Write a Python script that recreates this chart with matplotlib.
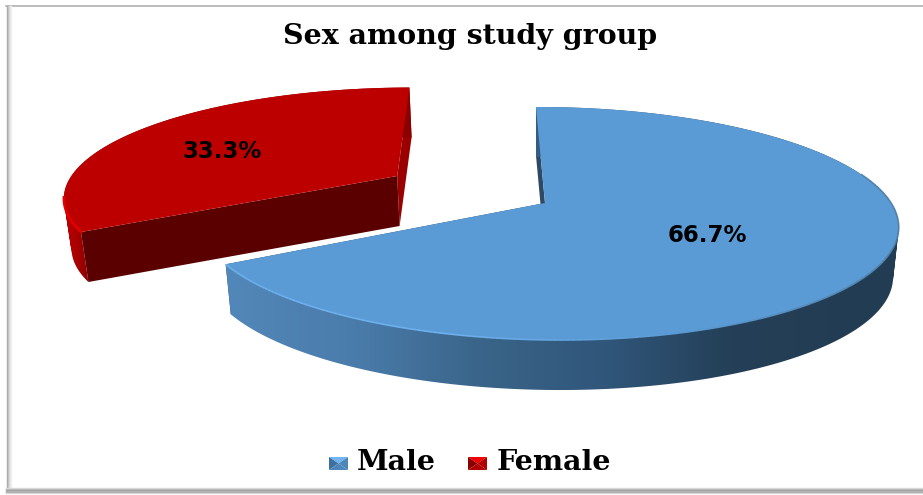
import numpy as np
import matplotlib
matplotlib.use('Agg')
import matplotlib.pyplot as plt
from matplotlib.collections import LineCollection
from matplotlib.colors import LinearSegmentedColormap
from matplotlib.patches import PathPatch
from matplotlib.path import Path

categories = ['Male', 'Female']
shares = [66.7, 33.3]
value_labels = ['66.7%', '33.3%']
title = 'Sex among study group'

# perspective settings of the fake 3d pie, in pixels
CX, CY = 545, 203
RX, RY = 344, 112.9
PERSP_Y = 0.176
PERSP_X = -0.006
SHEAR = -10.6
DEPTH = 50
SHRINK = 0.016
EXPLODE = [0.0, 0.5]
NUDGE = [0, -3]

label_xy = [(707, 235), (222, 151)]
top_colors = ['#5b9bd5', '#bc0000']
cut_colors = ['#2c4a63', '#5a0000']
back_colors = ['#28465e', '#9a0000']
side_maps = [
    LinearSegmentedColormap.from_list('blue', ['#5287b9', '#4a7cab', '#3a6489', '#30567a', '#243f57', '#223d53']),
    LinearSegmentedColormap.from_list('red', ['#c60000', '#ac0000', '#8a0000']),
]
side_ranges = [(228, 860), (60, 90)]
rim_map = LinearSegmentedColormap.from_list('rim', ['#6db0ee', '#6db0ee', '#5b9bd5', '#4f7fa8'])


def project(x, y):
    w = 1 + PERSP_Y * y + PERSP_X * x
    return CX + (RX * x + SHEAR * y) / w, CY - RY * y / w


def lower(x, y):
    # same point on the underside of the disc
    return CX + (x - CX) * (1 - SHRINK), y + DEPTH


def slice_xy(start, end, explode, nudge, n=300):
    # angles run clockwise from 12 o'clock
    mid = np.radians((start + end) / 2)
    ox, oy = explode * np.sin(mid), explode * np.cos(mid)
    t = np.radians(np.linspace(start, end, n))
    ax_, ay_ = project(ox, oy)
    px, py = project(ox + np.sin(t), oy + np.cos(t))
    return (ax_ + nudge, ay_), px + nudge, py


def wall_path(px, py, bx, by):
    # one quad per arc step, all wound the same way so they add up when clipping
    verts, codes = [], []
    for k in range(len(px) - 1):
        q = np.array([[px[k], py[k]], [px[k + 1], py[k + 1]], [bx[k + 1], by[k + 1]], [bx[k], by[k]]])
        area = np.sum(q[:, 0] * np.roll(q[:, 1], -1) - np.roll(q[:, 0], -1) * q[:, 1])
        if area < 0:
            q = q[::-1]
        verts += list(q) + [q[0]]
        codes += [Path.MOVETO, Path.LINETO, Path.LINETO, Path.LINETO, Path.CLOSEPOLY]
    return Path(np.array(verts), codes)


fig = plt.figure(figsize=(9.23, 4.95), dpi=100)
ax = fig.add_axes([0, 0, 1, 1])
ax.axis('off')

# frame of the pasted picture
ax.plot([6, 923], [6, 6], color='#b0b0b0', lw=1.2, zorder=1)
for i, c in enumerate(['#a8a8a8', '#c0c0c0', '#d6d6d6', '#e6e6e6', '#f2f2f2']):
    ax.plot([6.5 + i, 6.5 + i], [6, 488], color=c, lw=1, zorder=1)
for y, c in zip([488, 489, 490, 491, 492, 493], ['#e0e0e0', '#c0c0c0', '#a0a0a0', '#b4b4b4', '#a8a8a8', '#d8d8d8']):
    ax.plot([6, 923], [y, y], color=c, lw=1, zorder=1)

for i in [1, 0]:
    a0 = sum(shares[:i]) * 3.6
    a1 = a0 + shares[i] * 3.6
    apex, px, py = slice_xy(a0, a1, EXPLODE[i], NUDGE[i])
    bx, by = lower(px, py)
    abx, aby = lower(apex[0], apex[1])

    # outer wall, shaded along x
    lo, hi = side_ranges[i]
    grad = np.clip((np.linspace(0, 923, 923) - lo) / (hi - lo), 0, 1).reshape(1, -1)
    im = ax.imshow(grad, cmap=side_maps[i], extent=[0, 923, 495, 0], aspect='auto',
                   interpolation='bilinear', vmin=0, vmax=1, zorder=3)
    im.set_clip_path(PathPatch(wall_path(px, py, bx, by), transform=ax.transData))

    # cut faces: the first radius faces the viewer on the red slice
    ax.fill([px[-1], bx[-1], abx, apex[0]], [py[-1], by[-1], aby, apex[1]],
            color=back_colors[i], lw=0, zorder=2)
    ax.fill([px[0], bx[0], abx, apex[0]], [py[0], by[0], aby, apex[1]],
            color=cut_colors[i], lw=0, zorder=4 if i == 1 else 2)
    ax.fill(np.r_[apex[0], px], np.r_[apex[1], py], color=top_colors[i], lw=0, zorder=5)

    # lit rim on the front edge, fades out towards the dark side
    if i == 0:
        m = py > CY - 30
        pts = np.c_[px[m], py[m]]
        segs = np.stack([pts[:-1], pts[1:]], axis=1)
        rim = LineCollection(segs, cmap=rim_map, linewidths=1.2, zorder=6)
        rim.set_array(np.clip((pts[:-1, 0] - 228) / (895 - 228), 0, 1))
        ax.add_collection(rim)
    else:
        m = py > 197
        ax.plot(px[m], py[m], color='#e40000', lw=1.8, zorder=6)

    ax.text(label_xy[i][0], label_xy[i][1], value_labels[i], ha='center', va='center',
            family='DejaVu Sans', weight='bold', fontsize=16.5, color='black', zorder=7)

ax.text(470, 36, title, ha='center', va='center', family='DejaVu Serif',
        weight='bold', fontsize=20.5, color='black', zorder=7)

# legend
swatch_x = [329, 468]
text_x = [357, 497]
dark = ['#3f6f9e', '#8a0000']
mid_c = ['#4d86ba', '#b00000']
light = ['#72b4f0', '#f00000']
for i in range(2):
    x0, x1, y0, y1 = swatch_x[i], swatch_x[i] + 19, 457, 470
    xc, yc = (x0 + x1) / 2, (y0 + y1) / 2
    ax.fill([x0, x1, xc], [y0, y0, yc], color=light[i], lw=0, zorder=7)
    ax.fill([x0, x0, xc], [y0, y1, yc], color=dark[i], lw=0, zorder=7)
    ax.fill([x1, x1, xc], [y0, y1, yc], color=mid_c[i], lw=0, zorder=7)
    ax.fill([x0, x1, xc], [y1, y1, yc], color=mid_c[i], lw=0, zorder=7)
    ax.text(text_x[i], 463, categories[i], ha='left', va='center', family='DejaVu Serif',
            weight='bold', fontsize=20.5, color='black', zorder=7)

ax.set_xlim(0, 923)
ax.set_ylim(495, 0)
fig.savefig('out.png', dpi=100)
